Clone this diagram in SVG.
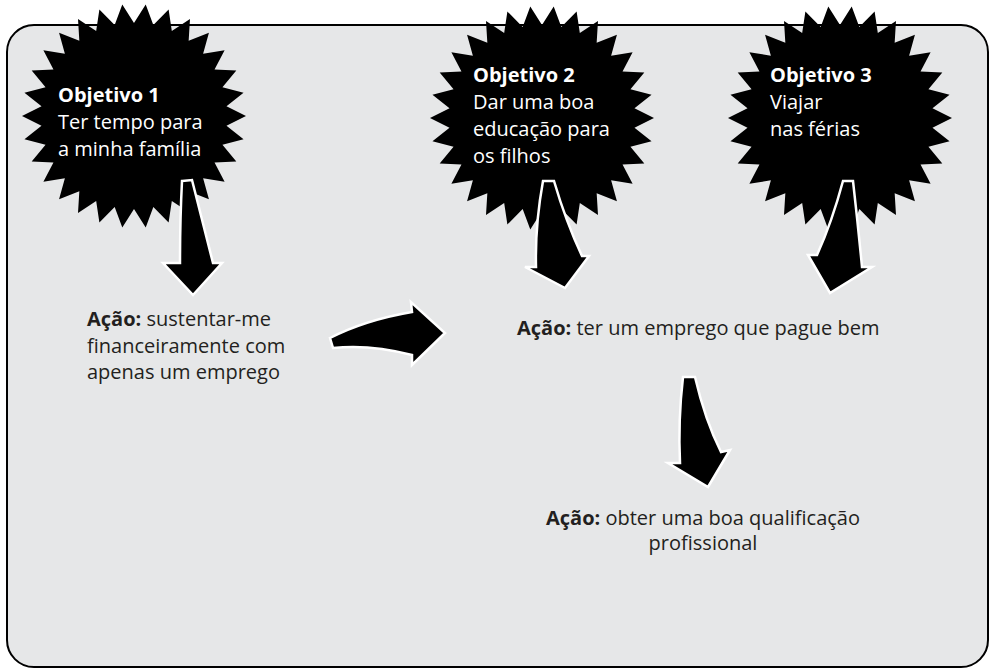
<svg xmlns="http://www.w3.org/2000/svg" width="992" height="669" viewBox="0 0 992 669">
<style>
.bg{fill:#e6e7e8;stroke:#000;stroke-width:2}
.burst{fill:#000}
.arrow{fill:#000;stroke:#fff;stroke-width:2.5;stroke-linejoin:miter}
.wt{fill:#fff;font-family:"Open Sans","Noto Sans",sans-serif;font-size:20px}
.dt{fill:#231f20;font-family:"Open Sans","Noto Sans",sans-serif;font-size:20px}
.b{font-weight:bold}
</style>
<defs>
<polygon id="star" points="0,-112 9.72,-92.49 23.29,-109.55 28.74,-88.45 45.55,-102.32 46.5,-80.54 65.83,-90.61 62.23,-69.11 83.23,-74.94 75.24,-54.66 97,-56 84.96,-37.83 106.52,-34.61 90.97,-19.34 111.39,-11.71 93,0 111.39,11.71 90.97,19.34 106.52,34.61 84.96,37.83 97,56 75.24,54.66 83.23,74.94 62.23,69.11 65.83,90.61 46.5,80.54 45.55,102.32 28.74,88.45 23.29,109.55 9.72,92.49 0,112 -9.72,92.49 -23.29,109.55 -28.74,88.45 -45.55,102.32 -46.5,80.54 -65.83,90.61 -62.23,69.11 -83.23,74.94 -75.24,54.66 -97,56 -84.96,37.83 -106.52,34.61 -90.97,19.34 -111.39,11.71 -93,0 -111.39,-11.71 -90.97,-19.34 -106.52,-34.61 -84.96,-37.83 -97,-56 -75.24,-54.66 -83.23,-74.94 -62.23,-69.11 -65.83,-90.61 -46.5,-80.54 -45.55,-102.32 -28.74,-88.45 -23.29,-109.55 -9.72,-92.49"/>
</defs>
<rect class="bg" x="7" y="25" width="981" height="642" rx="27" ry="27"/>
<g id="objetivo1">
<use href="#star" class="burst" transform="translate(134,116) rotate(6)"/>
<text class="wt" x="58" y="102"><tspan class="b">Objetivo 1</tspan><tspan x="58" y="129">Ter tempo para</tspan><tspan x="58" y="156">a minha família</tspan></text>
</g>
<g id="objetivo2">
<use href="#star" class="burst" transform="translate(542,118) rotate(6)"/>
<text class="wt" x="473" y="82"><tspan class="b">Objetivo 2</tspan><tspan x="473" y="109">Dar uma boa</tspan><tspan x="473" y="136">educação para</tspan><tspan x="473" y="163">os filhos</tspan></text>
</g>
<g id="objetivo3">
<use href="#star" class="burst" transform="translate(840,118) rotate(6)"/>
<text class="wt" x="770" y="82"><tspan class="b">Objetivo 3</tspan><tspan x="770" y="109">Viajar</tspan><tspan x="770" y="136">nas férias</tspan></text>
</g>
<g id="connectors">
<path class="arrow" d="M182,181 L192,180 Q201,215 213,263 L222,263 L193,295 L163,263 L180,263 Q180,220 182,181 Z"/>
<path class="arrow" d="M543,181 L554,181 Q566,222 582,256 L589,256 L565,288 L525,267 L536,267 Q535,225 543,181 Z"/>
<path class="arrow" d="M843,181 L853,181 Q858,225 862,267 L872,267 L830,293 L808,255 L817,255 Q832,222 843,181 Z"/>
<path class="arrow" d="M330,338 Q365,320 412,312 L411,302 L445,333 L412,365 L412,355 Q370,344 333,348 Z"/>
<path class="arrow" d="M683,377 L695,377 Q705,420 721,452 L730,450 L708,487 L668,463 L680,463 Q678,420 683,377 Z"/>
</g>
<g id="acao1">
<text class="dt" x="87" y="326"><tspan class="b">Ação:</tspan> sustentar-me<tspan x="87" y="353">financeiramente com</tspan><tspan x="87" y="379">apenas um emprego</tspan></text>
</g>
<g id="acao2">
<text class="dt" x="517" y="335"><tspan class="b">Ação:</tspan> ter um emprego que pague bem</text>
</g>
<g id="acao3">
<text class="dt" x="703" y="525" text-anchor="middle"><tspan class="b">Ação:</tspan> obter uma boa qualificação<tspan x="703" y="550">profissional</tspan></text>
</g>
</svg>
